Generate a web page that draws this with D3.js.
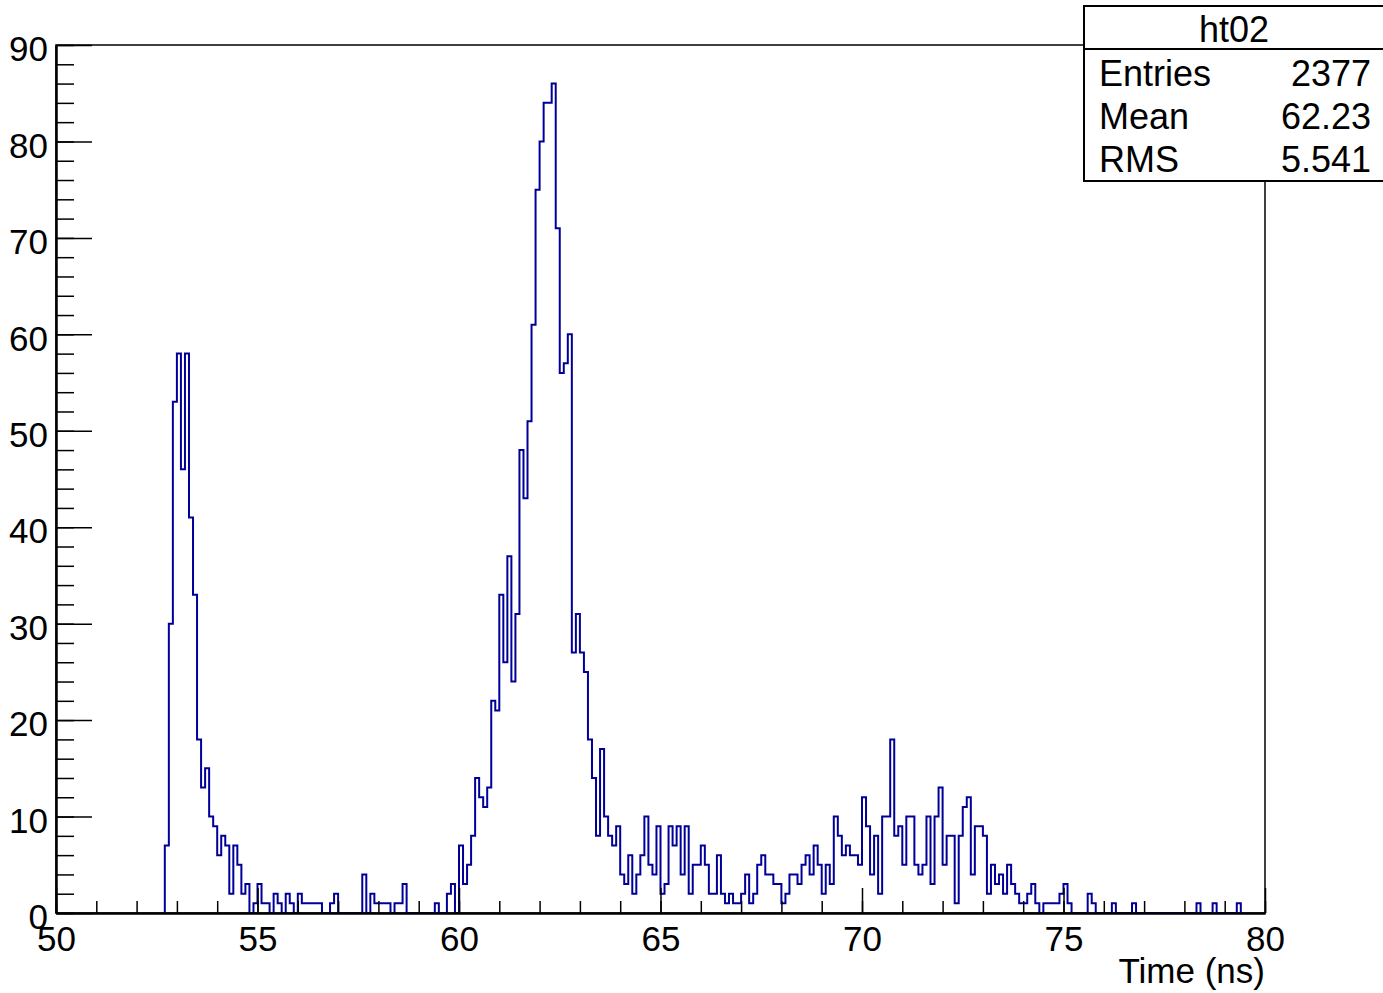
<!DOCTYPE html>
<html>
<head>
<meta charset="utf-8">
<script src="https://cdn.jsdelivr.net/npm/d3@7"></script>
<style>
  body { margin: 0; background: #fff; }
  svg { display: block; font-family: "Liberation Sans", Arial, Helvetica, sans-serif; }
</style>
</head>
<body>
<div id="chart"></div>
<script>
// bin contents of ht02, 0.1 ns bins starting at 52.7 ns
var firstBin = 52.7,
	binWidth = 0.1;

var counts = [
	7, 30, 53, 58, 46, 58, 41, 33, 18, 13, 15, 10, 9,          // 52.7 - 53.9
	6, 8, 7, 2, 7, 5, 2, 3, 0, 1,                              // 54.0 - 54.9
	3, 1, 1, 0, 2, 1, 0, 2, 1, 0,                              // 55.0 - 55.9
	2, 1, 1, 1, 1, 1, 0, 0, 1, 2,                              // 56.0 - 56.9
	0, 0, 0, 0, 0, 0, 4, 0, 2, 1,                              // 57.0 - 57.9
	1, 1, 1, 0, 1, 1, 3, 0, 0, 0,                              // 58.0 - 58.9
	0, 0, 0, 0, 1, 0, 0, 2, 3, 0,                              // 59.0 - 59.9
	7, 3, 5, 8, 14, 12, 11, 13, 22, 21,                        // 60.0 - 60.9
	33, 26, 37, 24, 31, 48, 43, 51, 61, 75,                    // 61.0 - 61.9
	80, 84, 84, 86, 71, 56, 57, 60, 27, 31,                    // 62.0 - 62.9
	27, 25, 18, 14, 8, 17, 10, 8, 7, 9,                        // 63.0 - 63.9
	4, 3, 6, 2, 4, 6, 10, 5, 4, 9,                             // 64.0 - 64.9
	2, 3, 9, 7, 9, 4, 9, 2, 5, 5,                              // 65.0 - 65.9
	7, 5, 2, 2, 6, 2, 1, 2, 1, 1,                              // 66.0 - 66.9
	2, 4, 1, 2, 5, 6, 4, 4, 3, 3,                              // 67.0 - 67.9
	1, 2, 4, 4, 3, 5, 6, 4, 7, 5,                              // 68.0 - 68.9
	2, 5, 3, 10, 8, 6, 7, 6, 6, 5,                             // 69.0 - 69.9
	12, 9, 4, 8, 2, 10, 10, 18, 8, 9,                          // 70.0 - 70.9
	5, 10, 10, 5, 4, 5, 10, 3, 10, 13,                         // 71.0 - 71.9
	5, 8, 8, 1, 8, 11, 12, 4, 9, 9,                            // 72.0 - 72.9
	8, 2, 5, 3, 4, 2, 5, 3, 2, 1,                              // 73.0 - 73.9
	1, 2, 3, 1, 0, 1, 1, 1, 1, 2,                              // 74.0 - 74.9
	3, 1, 0, 0, 0, 0, 2, 1, 0, 0,                              // 75.0 - 75.9
	0, 0, 1, 0, 0, 0, 0, 1, 0, 0,                              // 76.0 - 76.9
	0, 0, 0, 0, 0, 0, 0, 0, 0, 0,                              // 77.0 - 77.9
	0, 0, 0, 1, 0, 0, 0, 1, 0, 0,                              // 78.0 - 78.9
	0, 0, 0, 1                                                 // 79.0 - 79.3
];

var xMajorTicks = [50, 55, 60, 65, 70, 75, 80],
	xMinorTicks = d3.range(50, 81, 1),
	yMajorTicks = [0, 10, 20, 30, 40, 50, 60, 70, 80, 90],
	yMinorTicks = d3.range(0, 91, 2);

var statsTitle = "ht02",
	statsLabels = ["Entries", "Mean", "RMS"],
	statsValues = ["2377", "62.23", "5.541"];

var width = 1383,
	height = 993,
	LEFT = 56,
	RIGHT = 1265,
	TOP = 45,
	BOTTOM = 913,
	LINE_COLOR = "#000099",
	FONT_SIZE = "35px";

var svg = d3.select("#chart").append("svg")
	.attr("width", width)
	.attr("height", height);

var x = d3.scaleLinear().domain([50, 80]).range([LEFT, RIGHT]);
var y = d3.scaleLinear().domain([0, 90]).range([BOTTOM, TOP]);

// frame
svg.append("rect")
	.attr("x", LEFT)
	.attr("y", TOP)
	.attr("width", RIGHT - LEFT)
	.attr("height", BOTTOM - TOP)
	.style("fill", "none")
	.style("stroke", "black")
	.style("stroke-width", 1.5);

// histogram as a step outline
var points = [{ x: x(firstBin), y: y(0) }];
counts.forEach(function(c, i) {
	var lo = x(firstBin + i * binWidth),
		hi = x(firstBin + (i + 1) * binWidth);
	points.push({ x: lo, y: y(c) });
	points.push({ x: hi, y: y(c) });
});
points.push({ x: x(firstBin + counts.length * binWidth), y: y(0) });

var line = d3.line()
	.x(function(d) { return d.x; })
	.y(function(d) { return d.y; });

svg.append("path")
	.attr("d", line(points))
	.style("fill", "none")
	.style("stroke", LINE_COLOR)
	.style("stroke-width", 2)
	.style("stroke-linejoin", "miter");

// y axis: ticks point inward
var yMinor = svg.append("g")
	.attr("transform", "translate(" + LEFT + ",0)")
	.call(d3.axisLeft(y).tickValues(yMinorTicks).tickSizeInner(-18).tickSizeOuter(0).tickFormat(""));

var yMajor = svg.append("g")
	.attr("transform", "translate(" + LEFT + ",0)")
	.call(d3.axisLeft(y).tickValues(yMajorTicks).tickSizeInner(-36).tickSizeOuter(0).tickPadding(8));

// x axis
var xMinor = svg.append("g")
	.attr("transform", "translate(0," + BOTTOM + ")")
	.call(d3.axisBottom(x).tickValues(xMinorTicks).tickSizeInner(-12).tickSizeOuter(0).tickFormat(""));

var xMajor = svg.append("g")
	.attr("transform", "translate(0," + BOTTOM + ")")
	.call(d3.axisBottom(x).tickValues(xMajorTicks).tickSizeInner(-25).tickSizeOuter(0).tickPadding(13));

svg.selectAll(".domain").style("stroke-width", 2);
svg.selectAll(".tick line").style("stroke-width", 1.5);
svg.selectAll(".tick text")
	.style("font-size", FONT_SIZE)
	.style("font-family", "'Liberation Sans', Arial, Helvetica, sans-serif")
	.style("fill", "black");
yMajor.selectAll(".tick text").attr("dy", "0.45em");

// axis title
svg.append("text")
	.attr("x", RIGHT)
	.attr("y", 983)
	.text("Time (ns)")
	.style("font-size", FONT_SIZE)
	.style("text-anchor", "end");

// stats box
var stats = svg.append("g").attr("id", "stats");

stats.append("rect")
	.attr("x", 1084)
	.attr("y", 6)
	.attr("width", 320)
	.attr("height", 175)
	.style("fill", "white")
	.style("stroke", "black")
	.style("stroke-width", 2);

stats.append("line")
	.attr("x1", 1084)
	.attr("x2", width)
	.attr("y1", 49)
	.attr("y2", 49)
	.style("stroke", "black")
	.style("stroke-width", 2);

stats.append("text")
	.attr("x", 1234)
	.attr("y", 42)
	.text(statsTitle)
	.style("font-size", "36px")
	.style("text-anchor", "middle");

stats.selectAll(".label")
	.data(statsLabels)
	.enter()
	.append("text")
	.attr("class", "label")
	.attr("x", 1099)
	.attr("y", function(d, i) { return 86 + i * 43; })
	.text(function(d) { return d; })
	.style("font-size", "36px");

stats.selectAll(".value")
	.data(statsValues)
	.enter()
	.append("text")
	.attr("class", "value")
	.attr("x", 1371)
	.attr("y", function(d, i) { return 86 + i * 43; })
	.text(function(d) { return d; })
	.style("font-size", "36px")
	.style("text-anchor", "end");
</script>
</body>
</html>
